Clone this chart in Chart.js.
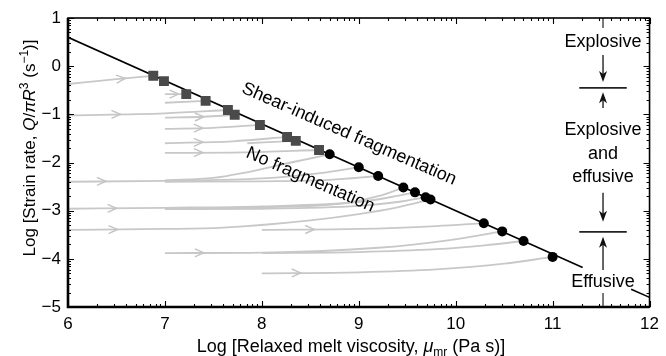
<!DOCTYPE html>
<html>
<head>
<meta charset="utf-8">
<script src="https://cdn.jsdelivr.net/npm/chart.js@4/dist/chart.umd.min.js"></script>
<style>
  html, body { margin: 0; padding: 0; background: #fff; }
  canvas { display: block; }
</style>
</head>
<body>
<canvas id="chart" width="666" height="356"></canvas>
<script>
// axis ticks
const xTickValues = [6, 7, 8, 9, 10, 11, 12];
const yTickValues = [-5, -4, -3, -2, -1, 0, 1];

// fragmentation threshold line (two pieces, gap behind "Effusive")
const fragLineA = [[6, 0.6], [11.31, -4.18]];
const fragLineB = [[11.81, -4.63], [12, -4.8]];

// shear-induced fragmentation (squares) and no fragmentation (circles)
const squareX = [6.88, 6.99, 7.22, 7.42, 7.65, 7.72, 7.98, 8.26, 8.35, 8.59];
const squareY = [-0.20, -0.31, -0.58, -0.72, -0.91, -1.01, -1.22, -1.47, -1.55, -1.74];
const circleX = [8.70, 9.00, 9.20, 9.46, 9.58, 9.69, 9.74, 10.29, 10.48, 10.70, 11.00];
const circleY = [-1.83, -2.10, -2.28, -2.52, -2.62, -2.72, -2.77, -3.26, -3.43, -3.63, -3.96];

// grey trajectories
const flow1 = [[6, -0.37], [6.5, -0.27], [6.88, -0.20]];
const flow2 = [[7, -0.58], [7.22, -0.58]];
const flow3 = [[7, -0.76], [7.42, -0.72]];
const flow4 = [[6, -1.02], [7, -0.98], [7.65, -0.91]];
const flow5 = [[7, -1.07], [7.4, -1.05], [7.72, -1.01]];
const flow6 = [[7, -1.30], [7.5, -1.28], [7.98, -1.22]];
const flow7 = [[7, -1.60], [7.7, -1.56], [8.26, -1.47]];
const flow8 = [[7.85, -1.60], [8.35, -1.55]];
const flow9 = [[7, -1.80], [7.8, -1.79], [8.59, -1.74]];
const flow10 = [[6, -2.40], [7, -2.38], [8, -2.33], [8.6, -2.22], [9.0, -2.10]];
const flow11 = [[7, -2.37], [7.5, -2.32], [7.8, -2.22], [8.3, -2.0], [8.7, -1.83]];
const flow12 = [[7, -2.40], [8, -2.39], [8.7, -2.36], [9.2, -2.28]];
const flow13 = [[6, -2.96], [7, -2.94], [8, -2.91], [9, -2.82], [9.3, -2.73], [9.58, -2.62]];
const flow14 = [[7, -2.95], [8, -2.93], [8.8, -2.86], [9.2, -2.7], [9.46, -2.52]];
const flow15 = [[7, -2.97], [8, -2.96], [9, -2.9], [9.4, -2.82], [9.69, -2.72]];
const flow16 = [[6, -3.40], [7, -3.38], [7.6, -3.35], [8.5, -3.2], [9, -3.07], [9.4, -2.93], [9.74, -2.77]];
const flow17 = [[8, -3.40], [9, -3.38], [9.8, -3.32], [10.29, -3.26]];
const flow18 = [[7, -3.88], [8, -3.87], [9.2, -3.77], [9.9, -3.62], [10.48, -3.43]];
const flow19 = [[8, -3.88], [9, -3.86], [9.8, -3.8], [10.3, -3.72], [10.7, -3.63]];
const flow20 = [[8, -4.30], [9, -4.28], [9.8, -4.22], [10.5, -4.1], [11.0, -3.96]];

const flows = [flow1, flow2, flow3, flow4, flow5, flow6, flow7, flow8, flow9, flow10,
  flow11, flow12, flow13, flow14, flow15, flow16, flow17, flow18, flow19, flow20];
// where the arrow sits on each trajectory (null = no arrow)
const flowArrowX = [6.55, 7.1, null, 6.5, 7.36, 7.35, 7.35, null, 7.35, 6.35,
  null, null, 6.46, null, null, 6.47, 8.5, 7.36, null, 8.36];

// regime boundaries on the right
const regimeX = 11.52;
const regimeBounds = [-0.45, -3.44];

const FONT = '"Liberation Sans", Arial, Helvetica, sans-serif';
const toXY = arr => arr.map(p => ({ x: p[0], y: p[1] }));

function interpY(f, xv) {
  for (let i = 0; i < f.length - 1; i++) {
    if (xv >= f[i][0] && xv <= f[i + 1][0]) {
      const t = (xv - f[i][0]) / (f[i + 1][0] - f[i][0]);
      return f[i][1] + t * (f[i + 1][1] - f[i][1]);
    }
  }
  return f[f.length - 1][1];
}

// draws text made of runs (italic / sup / sub), centred on x
function drawRuns(ctx, runs, x, y, size) {
  const fontFor = r => (r.it ? 'italic ' : '') + ((r.sup || r.sub) ? Math.round(size * 0.68) : size) + 'px ' + FONT;
  let total = 0;
  runs.forEach(r => { ctx.font = fontFor(r); r.w = ctx.measureText(r.t).width; total += r.w; });
  let cx = x - total / 2;
  ctx.textAlign = 'left';
  ctx.textBaseline = 'alphabetic';
  runs.forEach(r => {
    ctx.font = fontFor(r);
    const dy = r.sup ? -size * 0.4 : r.sub ? size * 0.22 : 0;
    ctx.fillText(r.t, cx, y + dy);
    cx += r.w;
  });
}

function arrowHead(ctx, x, y, dir) {
  // dir = 1 points down, -1 points up
  ctx.beginPath();
  ctx.moveTo(x, y);
  ctx.lineTo(x - 4, y - dir * 11);
  ctx.lineTo(x, y - dir * 8);
  ctx.lineTo(x + 4, y - dir * 11);
  ctx.closePath();
  ctx.fill();
}

const decorations = {
  id: 'decorations',
  afterDatasetsDraw(chart) {
    const { ctx, chartArea: a, scales: { x, y } } = chart;
    ctx.save();

    // chevrons on the grey trajectories
    ctx.strokeStyle = '#c4c4c4';
    ctx.lineWidth = 1.4;
    flows.forEach((f, i) => {
      const ax = flowArrowX[i];
      if (ax == null) return;
      const px = x.getPixelForValue(ax), py = y.getPixelForValue(interpY(f, ax));
      const p2x = x.getPixelForValue(ax + 0.05), p2y = y.getPixelForValue(interpY(f, ax + 0.05));
      const ang = Math.atan2(p2y - py, p2x - px);
      ctx.save();
      ctx.translate(px, py);
      ctx.rotate(ang);
      ctx.beginPath();
      ctx.moveTo(-5, -4);
      ctx.lineTo(4, 0);
      ctx.lineTo(-5, 4);
      ctx.stroke();
      ctx.restore();
    });

    // rotated labels along the threshold line
    const lx1 = x.getPixelForValue(fragLineA[0][0]), ly1 = y.getPixelForValue(fragLineA[0][1]);
    const lx2 = x.getPixelForValue(fragLineA[1][0]), ly2 = y.getPixelForValue(fragLineA[1][1]);
    const ang = Math.atan2(ly2 - ly1, lx2 - lx1) - 0.01;
    ctx.fillStyle = '#000';
    ctx.font = '18px ' + FONT;
    ctx.textAlign = 'center';
    ctx.textBaseline = 'middle';
    [['Shear-induced fragmentation', 8.9, -1.41], ['No fragmentation', 8.5, -2.36]].forEach(([t, vx, vy]) => {
      ctx.save();
      ctx.translate(x.getPixelForValue(vx), y.getPixelForValue(vy));
      ctx.rotate(ang);
      ctx.fillText(t, 0, 0);
      ctx.restore();
    });

    // regime annotations
    const rx = x.getPixelForValue(regimeX);
    const half = x.getPixelForValue(regimeX + 0.245) - rx;
    ctx.strokeStyle = '#222';
    ctx.fillStyle = '#111';
    ctx.lineWidth = 1.6;
    regimeBounds.forEach(b => {
      const by = y.getPixelForValue(b);
      ctx.beginPath();
      ctx.moveTo(rx - half, by);
      ctx.lineTo(rx + half, by);
      ctx.stroke();
    });
    const arrows = [[0.23, -0.33, 1], [-0.87, -0.54, -1], [-2.63, -3.23, 1], [-4.23, -3.54, -1]];
    ctx.lineWidth = 1.4;
    arrows.forEach(([from, to, dir]) => {
      const y1 = y.getPixelForValue(from), y2 = y.getPixelForValue(to);
      ctx.beginPath();
      ctx.moveTo(rx, y1);
      ctx.lineTo(rx, y2 - dir * 7);
      ctx.stroke();
      arrowHead(ctx, rx, y2, dir);
    });
    // dashed ends of the vertical marker
    ctx.lineWidth = 1.2;
    [[1, 0.79], [-4.71, -5]].forEach(([a1, a2]) => {
      ctx.beginPath();
      ctx.moveTo(rx, y.getPixelForValue(a1));
      ctx.lineTo(rx, y.getPixelForValue(a2));
      ctx.stroke();
    });
    ctx.fillStyle = '#000';
    ctx.font = '18px ' + FONT;
    ctx.textAlign = 'center';
    ctx.textBaseline = 'middle';
    [['Explosive', 0.51], ['Explosive', -1.33], ['and', -1.82], ['effusive', -2.30], ['Effusive', -4.48]].forEach(([t, vy]) => {
      ctx.fillText(t, rx, y.getPixelForValue(vy));
    });

    // frame with inward ticks (log-style minor ticks)
    ctx.strokeStyle = '#000';
    ctx.lineWidth = 1.6;
    ctx.strokeRect(a.left, a.top, a.right - a.left, a.bottom - a.top);
    ctx.lineWidth = 2.6;
    ctx.beginPath();
    ctx.moveTo(a.left, a.top);
    ctx.lineTo(a.left, a.bottom);
    ctx.lineTo(a.right, a.bottom);
    ctx.stroke();
    ctx.lineWidth = 1.1;
    ctx.beginPath();
    const minors = [2, 3, 4, 5, 6, 7, 8, 9].map(k => Math.log10(k));
    xTickValues.forEach((v, i) => {
      const list = [[v, 6]];
      if (i < xTickValues.length - 1) minors.forEach(m => list.push([v + m, 3]));
      list.forEach(([tv, len]) => {
        const px = Math.round(x.getPixelForValue(tv)) + 0.5;
        ctx.moveTo(px, a.bottom); ctx.lineTo(px, a.bottom - len);
        ctx.moveTo(px, a.top); ctx.lineTo(px, a.top + len);
      });
    });
    yTickValues.forEach((v, i) => {
      const list = [[v, 6]];
      if (i < yTickValues.length - 1) minors.forEach(m => list.push([v + m, 3]));
      list.forEach(([tv, len]) => {
        const py = Math.round(y.getPixelForValue(tv)) + 0.5;
        ctx.moveTo(a.left, py); ctx.lineTo(a.left + len, py);
        ctx.moveTo(a.right, py); ctx.lineTo(a.right - len, py);
      });
    });
    ctx.stroke();

    // axis titles
    ctx.fillStyle = '#000';
    drawRuns(ctx, [
      { t: 'Log [Relaxed melt viscosity, ' }, { t: 'μ', it: true }, { t: 'mr', sub: true }, { t: ' (Pa s)]' }
    ], 351, 352, 18);
    ctx.save();
    ctx.translate(35, 148);
    ctx.rotate(-Math.PI / 2);
    drawRuns(ctx, [
      { t: 'Log [Strain rate, ' }, { t: 'Q', it: true }, { t: '/' }, { t: 'π', it: true }, { t: 'R', it: true },
      { t: '3', sup: true }, { t: ' (s' }, { t: '−1', sup: true }, { t: ')]' }
    ], 0, 0, 17);
    ctx.restore();

    ctx.restore();
  }
};

const datasets = [
  {
    data: squareX.map((v, i) => ({ x: v, y: squareY[i] })),
    pointStyle: 'rect', pointRadius: 7, backgroundColor: '#4a4a4a', borderColor: '#4a4a4a', borderWidth: 0
  },
  {
    data: circleX.map((v, i) => ({ x: v, y: circleY[i] })),
    pointStyle: 'circle', pointRadius: 5, backgroundColor: '#000', borderColor: '#000', borderWidth: 0
  },
  { data: toXY(fragLineA), showLine: true, borderColor: '#000', borderWidth: 1.6, pointRadius: 0 },
  { data: toXY(fragLineB), showLine: true, borderColor: '#000', borderWidth: 1.6, pointRadius: 0 }
].concat(flows.map(f => ({
  data: toXY(f), showLine: true, borderColor: '#c8c8c8', borderWidth: 1.8, pointRadius: 0,
  cubicInterpolationMode: 'monotone'
})));

new Chart(document.getElementById('chart').getContext('2d'), {
  type: 'scatter',
  data: { datasets },
  options: {
    responsive: false,
    animation: false,
    events: [],
    layout: { padding: { left: 0, top: 18, right: 16, bottom: 0 } },
    plugins: { legend: { display: false }, tooltip: { enabled: false } },
    scales: {
      x: {
        type: 'linear', min: 6, max: 12,
        afterBuildTicks: s => { s.ticks = xTickValues.map(v => ({ value: v })); },
        afterFit: s => { s.height = 49; },
        grid: { display: false, drawTicks: false },
        border: { display: false },
        ticks: { color: '#000', padding: 7, font: { family: FONT, size: 17 }, maxRotation: 0 }
      },
      y: {
        type: 'linear', min: -5, max: 1,
        afterBuildTicks: s => { s.ticks = yTickValues.map(v => ({ value: v })); },
        afterFit: s => { s.width = 68; },
        grid: { display: false, drawTicks: false },
        border: { display: false },
        ticks: {
          color: '#000', padding: 7, font: { family: FONT, size: 17 },
          callback: v => String(v).replace('-', '−')
        }
      }
    }
  },
  plugins: [decorations]
});
</script>
</body>
</html>
